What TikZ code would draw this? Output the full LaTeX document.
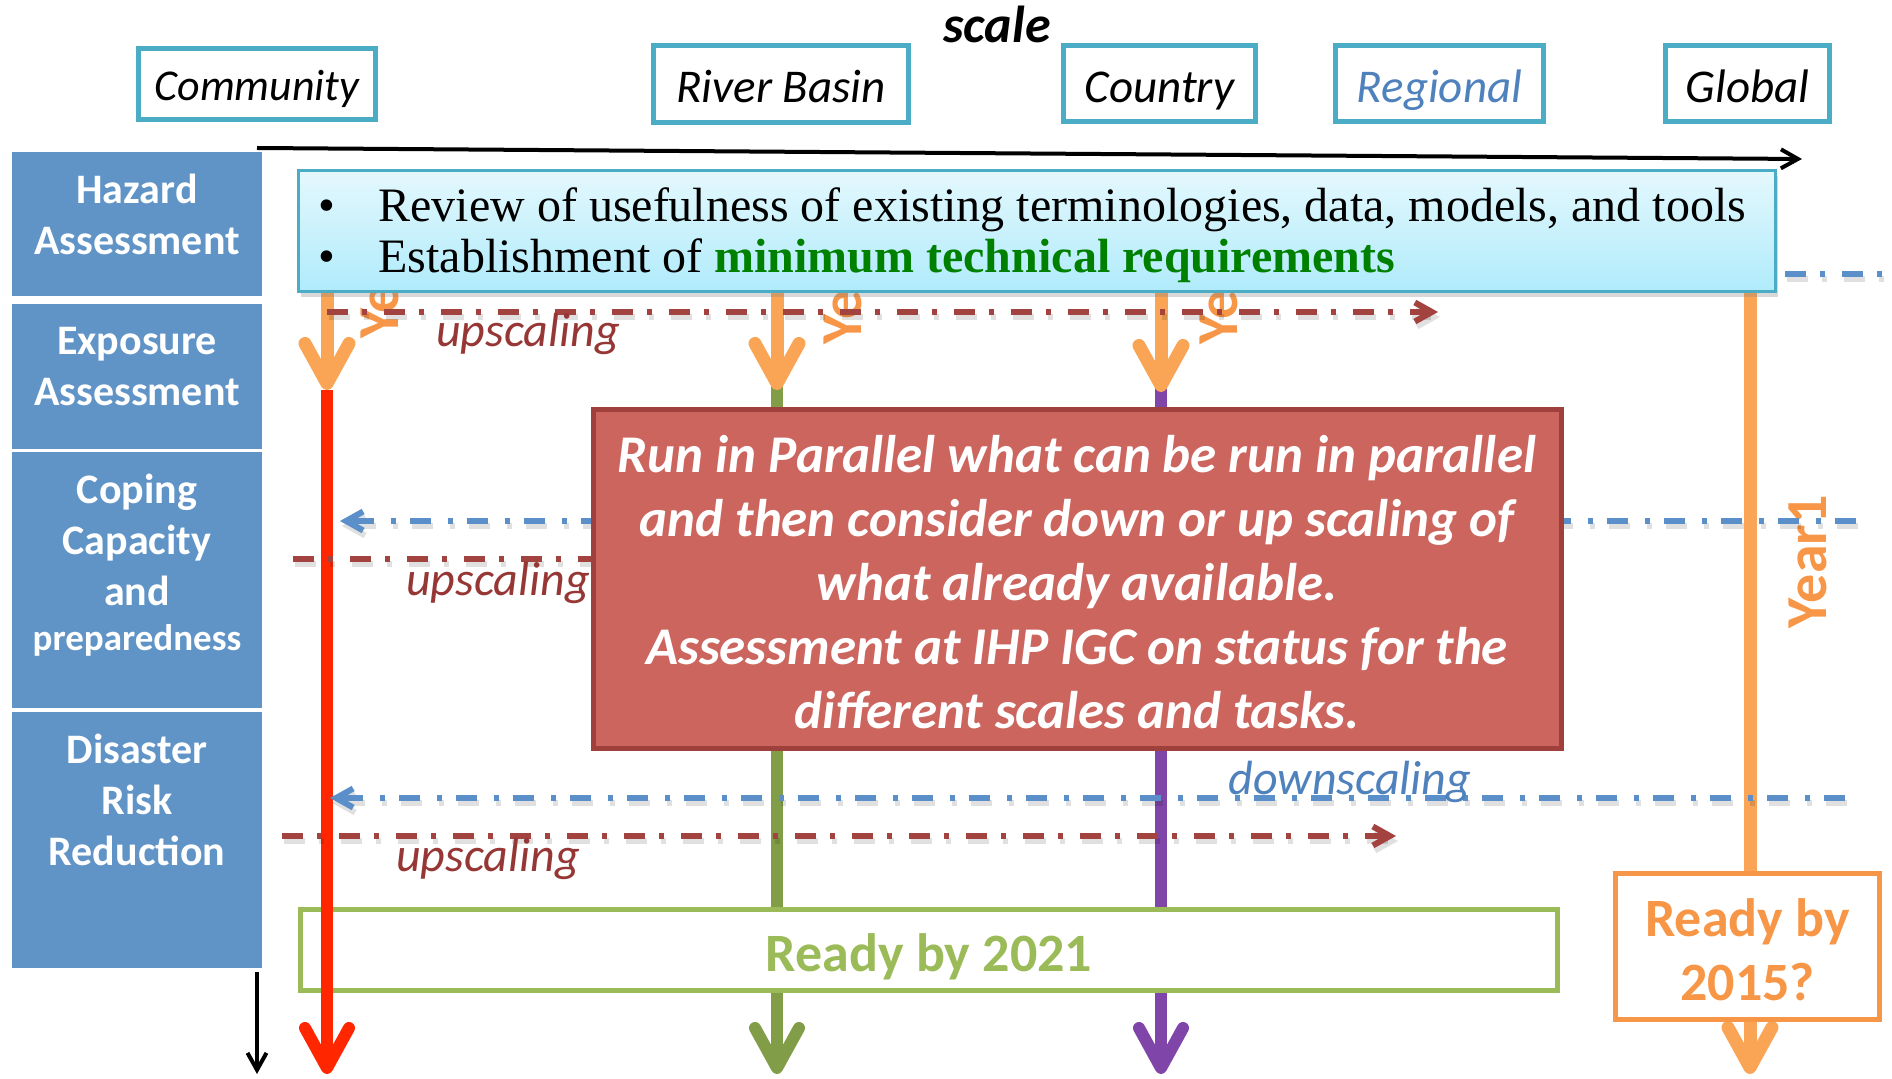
\documentclass[tikz,border=0pt]{standalone}
\usepackage{fontspec}
\setmainfont{Carlito}
\newfontfamily\timesf{Liberation Serif}
\usetikzlibrary{arrows.meta,shadows}
\definecolor{tealb}{RGB}{75,172,198}
\definecolor{leftblue}{RGB}{96,148,199}
\definecolor{topA}{RGB}{228,248,253}
\definecolor{topB}{RGB}{176,235,251}
\definecolor{dred}{RGB}{162,67,64}
\definecolor{uptext}{RGB}{150,55,53}
\definecolor{dblue}{RGB}{91,143,201}
\definecolor{downtext}{RGB}{79,129,189}
\definecolor{oline}{RGB}{250,165,85}
\definecolor{otext}{RGB}{247,150,70}
\definecolor{rline}{RGB}{255,38,0}
\definecolor{gline}{RGB}{130,157,72}
\definecolor{pline}{RGB}{127,69,168}
\definecolor{rfill}{RGB}{205,101,95}
\definecolor{rborder}{RGB}{160,64,60}
\definecolor{bgreen}{RGB}{155,187,89}
\definecolor{techgreen}{RGB}{0,128,0}
\newcommand\fsz[2]{\fontsize{#1}{#2}\selectfont}
\begin{document}
\begin{tikzpicture}[x=0.5pt,y=-0.5pt,
  scalebox/.style={draw=tealb,line width=2.5pt,fill=white,inner sep=0pt},
  scaletext/.style={font=\fsz{23.5pt}{28pt}\itshape,inner sep=0pt,anchor=base},
  rowbox/.style={fill=leftblue,draw=none,inner sep=0pt,minimum width=125pt},
  rowtext/.style={text=white,font=\fsz{21pt}{25.5pt}\bfseries,align=center,anchor=north,inner sep=0pt},
  dashdot/.style={line width=3pt,dash pattern=on 10.5pt off 7pt on 2.5pt off 8.5pt,
     preaction={draw=black,draw opacity=0.12,line width=3pt,dash pattern=on 10.5pt off 7pt on 2.5pt off 8.5pt,
       transform canvas={xshift=1pt,yshift=-2.5pt}}},
  smalltip/.style={-{Straight Barb[length=8.5pt,width=9.5pt]}},
  bigtip/.style={-{Straight Barb[length=20pt,width=22pt,round]}},
  scalelabel/.style={font=\fsz{24pt}{28pt}\itshape,anchor=base,inner sep=0pt},
  yearlabel/.style={font=\fsz{29pt}{34pt}\bfseries,text=otext,rotate=90,inner sep=0pt},
  bigbox/.style={line width=2.5pt,fill=white,inner sep=0pt},
  bigtext/.style={font=\fsz{27pt}{32pt}\bfseries,align=center,inner sep=0pt}
]
\useasboundingbox[fill=white] (0,0) rectangle (1892,1079);

% scale axis
\node[font=\fsz{26pt}{30pt}\bfseries\itshape,anchor=base,inner sep=0pt] (scaleT) at (997,43) {scale};
\coordinate (axA) at (257,148);
\coordinate (axB) at (1802,159);
\draw[line width=2pt,-{Straight Barb[length=8.5pt,width=9.5pt]}] (axA) -- (axB);

\node[scalebox,minimum width=118.5pt,minimum height=35.5pt] (comm) at (257,84) {};
\node[scalebox,minimum width=127.5pt,minimum height=38.5pt] (river) at (781,84) {};
\node[scalebox,minimum width=96pt,minimum height=38pt] (country) at (1159.5,84) {};
\node[scalebox,minimum width=104pt,minimum height=38pt] (regional) at (1439.5,84) {};
\node[scalebox,minimum width=82pt,minimum height=38pt] (global) at (1747.5,84) {};
\node[scaletext,font=\fsz{22pt}{26pt}\itshape] (commT) at (257,101) {Community};
\node[scaletext] (riverT) at (781,103) {River Basin};
\node[scaletext] (countryT) at (1159.5,103) {Country};
\node[scaletext,text=downtext] (regionalT) at (1439.5,103) {Regional};
\node[scaletext] (globalT) at (1747.5,103) {Global};

% left rows
\node[rowbox,minimum height=72pt] (hazB) at (137,224) {};
\node[rowbox,minimum height=72.5pt] (expB) at (137,376.5) {};
\node[rowbox,minimum height=128pt] (copB) at (137,580) {};
\node[rowbox,minimum height=128pt] (drrB) at (137,840) {};
\node[rowtext] (hazT) at (137,174) {Hazard\\Assessment};
\node[rowtext] (expT) at (137,327) {Exposure\\Assessment};
\node[rowtext] (copT) at (137,474) {Coping\\Capacity\\and\\[-3pt]{\fsz{18.5pt}{22pt}preparedness}};
\node[rowtext] (drrT) at (137,734) {Disaster\\Risk\\Reduction};

% Year labels (partly hidden)
\node[yearlabel,anchor=west] (ye1) at (380,339) {Year1};
\node[yearlabel,anchor=west] (ye2) at (843,345) {Year1};
\node[yearlabel,anchor=west] (ye3) at (1219,345) {Year1};
\node[yearlabel] (ye4) at (1808,562) {Year1};

% vertical lines
\coordinate (v1a) at (327,293); \coordinate (v1m) at (327,390); \coordinate (v1b) at (327,1074);
\coordinate (v2a) at (777,293); \coordinate (v2m) at (777,390); \coordinate (v2b) at (777,1074);
\coordinate (v3a) at (1161,293); \coordinate (v3m) at (1161,392); \coordinate (v3b) at (1161,1074);
\coordinate (v4a) at (1750,293); \coordinate (v4b) at (1750,1074);
\draw[gline,line width=6pt,bigtip] (v2a) -- (v2b);
\draw[pline,line width=6pt,bigtip] (v3a) -- (v3b);
\draw[oline,line width=6.5pt,bigtip] (v4a) -- (v4b);

\node[bigbox,draw=bgreen,minimum width=628.5pt,minimum height=40.5pt] (r2021) at (929,950) {};
\node[bigtext,text=bgreen] (r2021T) at (929,957) {Ready by 2021};
\node[bigbox,draw=otext,minimum width=132pt,minimum height=73pt] (r2015) at (1747.5,946.5) {};
\node[bigtext,text=otext] (r2015T) at (1747.5,950) {Ready by\\2015?};

\draw[rline,line width=6pt,bigtip] (v1m) -- (v1b);
\draw[oline,line width=6.5pt,bigtip] (v1a) -- (v1m);
\draw[oline,line width=6.5pt,bigtip] (v2a) -- (v2m);
\draw[oline,line width=6.5pt,bigtip] (v3a) -- (v3m);

% bottom-left black arrow
\coordinate (blA) at (257,972); \coordinate (blB) at (257,1074);
\draw[line width=2pt,-{Straight Barb[length=8.5pt,width=9.5pt]}] (blA) -- (blB);

% top box
\node[draw=tealb,line width=1.5pt,top color=topA,bottom color=topB,minimum width=738.5pt,minimum height=60.5pt,inner sep=0pt,
      drop shadow={shadow xshift=1pt,shadow yshift=-3pt,opacity=0.3}] (topbox) at (1037,231) {};
\node[font=\timesf\fsz{24pt}{28pt},anchor=base west,inner sep=0pt] (b1) at (318,222) {•};
\node[font=\timesf\fsz{24pt}{28pt},anchor=base west,inner sep=0pt] (t1) at (378,222) {Review of usefulness of existing terminologies, data, models, and tools};
\node[font=\timesf\fsz{24pt}{28pt},anchor=base west,inner sep=0pt] (b2) at (318,273) {•};
\node[font=\timesf\fsz{24pt}{28pt},anchor=base west,inner sep=0pt] (t2) at (378,273) {Establishment of \textbf{\color{techgreen}minimum technical requirements}};

% dash-dot lines
\coordinate (d1a) at (327,312); \coordinate (d1b) at (1438,312);
\coordinate (d2a) at (1785,274); \coordinate (d2b) at (1892,274);
\coordinate (d3a) at (1856,521); \coordinate (d3b) at (340,521);
\coordinate (d4a) at (293,559); \coordinate (d4b) at (700,559);
\coordinate (d5a) at (1845,798); \coordinate (d5b) at (330,798);
\coordinate (d6a) at (282,836); \coordinate (d6b) at (1396,836);
\draw[dred,dashdot,smalltip] (d1a) -- (d1b);
\draw[dblue,dashdot] (d2a) -- (d2b);
\draw[dblue,dashdot,smalltip] (d3a) -- (d3b);
\draw[dred,dashdot] (d4a) -- (d4b);
\draw[dblue,dashdot,smalltip] (d5a) -- (d5b);
\draw[dred,dashdot,smalltip] (d6a) -- (d6b);

\node[scalelabel,text=uptext] (up1) at (528,347) {upscaling};
\node[scalelabel,text=uptext] (up2) at (498,596) {upscaling};
\node[scalelabel,text=uptext] (up3) at (488,872) {upscaling};
\node[scalelabel,text=downtext] (down1) at (1350,795) {downscaling};

% red box
\node[draw=rborder,fill=rfill,line width=2.5pt,minimum width=484pt,minimum height=169.5pt,inner sep=0pt] (redbox) at (1077.5,579) {};
\node[font=\fsz{26.5pt}{32pt}\bfseries\itshape,text=white,align=center,inner sep=0pt] (redtext) at (1077,582)
 {Run in Parallel what can be run in parallel\\and then consider down or up scaling of\\what already available.\\Assessment at IHP IGC on status for the\\different scales and tasks.};
\end{tikzpicture}
\end{document}
